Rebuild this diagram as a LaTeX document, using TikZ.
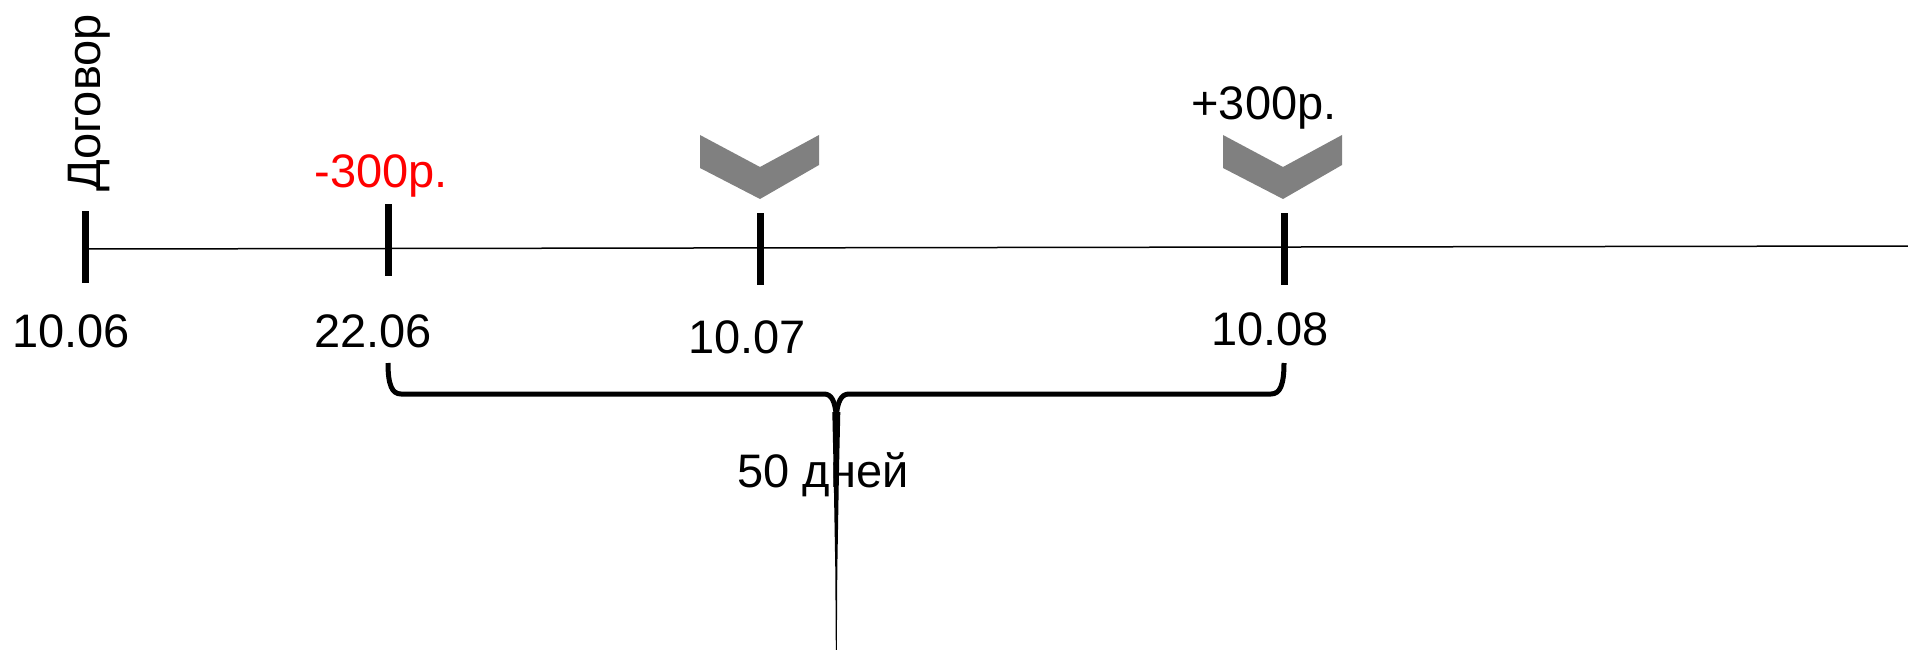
\documentclass[tikz,border=0pt]{standalone}
\usepackage{fontspec}
\setmainfont{Liberation Sans}
\definecolor{chev}{RGB}{128,128,128}
\definecolor{minusred}{RGB}{255,0,0}
\tikzset{
  lbl/.style={inner sep=0pt, anchor=base, font=\fontsize{47}{56}\selectfont},
  tick/.style={line width=7pt},
  axis/.style={line width=1.5pt},
  brace/.style={line width=5pt, line join=round},
  chevron/.style={fill=chev}
}
\begin{document}
\begin{tikzpicture}[x=1pt,y=-1pt]
\useasboundingbox (0,0) rectangle (1908,650);
% axis
\coordinate (axL) at (85,249);
\coordinate (axR) at (1908,246);
\draw[axis] (axL) -- (axR);
% ticks
\draw[tick] (85,211) -- (85,283);
\draw[tick] (388,204) -- (388,276);
\draw[tick] (760,213) -- (760,285);
\draw[tick] (1284,213) -- (1284,285);
% chevrons
\foreach \cx in {760,1283}{
  \fill[chevron] (\cx-60,135) -- (\cx,167) -- (\cx+59,135) -- (\cx+59,165) -- (\cx,199) -- (\cx-60,168) -- cycle;
}
% labels
\node[lbl, rotate=90] (dog) at (100,103) {Договор};
\node[lbl, text=minusred] (minus) at (381,187) {-300р.};
\node[lbl] (plus) at (1264,120) {+300р.};
\node[lbl] (d1) at (71,347) {10.06};
\node[lbl] (d2) at (373,347) {22.06};
\node[lbl] (d3) at (747,353) {10.07};
\node[lbl] (d4) at (1270,345) {10.08};
% brace
\draw[brace] (388,363) .. controls (388,385) and (392,394) .. (401,394) -- (824,394) .. controls (832,394) and (835,402) .. (836.3,416);
\draw[brace] (1284,363) .. controls (1284,385) and (1280,394) .. (1271,394) -- (849,394) .. controls (841,394) and (837.5,402) .. (836.3,416);
\fill (832.3,412) -- (840.3,412) -- (839,470) -- (837.3,570) -- (836.8,650) -- (835.8,650) -- (835.3,570) -- (833.6,470) -- cycle;
\node[lbl] (days) at (823,487) {50 дней};
\end{tikzpicture}
\end{document}
